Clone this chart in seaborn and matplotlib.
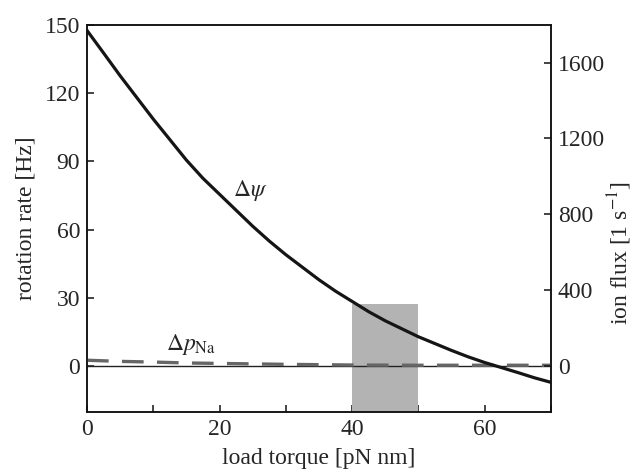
import matplotlib
matplotlib.use("Agg")
import matplotlib.pyplot as plt
import seaborn as sns
import pandas as pd

# values
torque = [0, 2.5, 5, 7.5, 10, 12.5, 15, 17.5, 20, 22.5, 25, 27.5, 30, 32.5, 35,
          37.5, 40, 42.5, 45, 47.5, 50, 52.5, 55, 57.5, 60, 62.5, 65, 67.5, 70]
rate_psi = [147.4, 137.5, 127.5, 118, 108.5, 99.5, 90.5, 82.5, 75.5, 68.5, 61.5,
            55, 49, 43.5, 38, 33, 28.5, 24, 20, 16.5, 13, 10, 7, 4.2, 1.7, -0.5,
            -2.7, -5, -7]
torque_na = [0, 5, 10, 15, 20, 25, 30, 35, 40, 50, 60, 70]
rate_na = [2.7, 2.2, 1.9, 1.5, 1.3, 1.1, 0.9, 0.75, 0.6, 0.5, 0.5, 0.5]
shade_x = [40, 50]
shade_top = 27.5

x_ticks = [0, 10, 20, 30, 40, 50, 60, 70]
x_labels = ['0', '', '20', '', '40', '', '60', '']
rate_ticks = [0, 30, 60, 90, 120, 150]
flux_ticks = [0, 400, 800, 1200, 1600]

sns.set_theme(style="ticks")
plt.rcParams['font.family'] = ['Liberation Serif', 'DejaVu Serif']
plt.rcParams['mathtext.fontset'] = 'stix'
plt.rcParams['xtick.direction'] = 'in'
plt.rcParams['ytick.direction'] = 'in'

fs = 17
fig = plt.figure(figsize=(6.35, 4.76), dpi=100)
ax = fig.add_axes([0.137, 0.1345, 0.7307, 0.814])

ylo, yhi = -20, 150
ax.fill_between(shade_x, ylo, shade_top, color='#b3b3b3', lw=0, zorder=1)
ax.axhline(0, color='#222222', lw=1.0, zorder=2)

df_psi = pd.DataFrame({'torque': torque, 'rate': rate_psi})
df_na = pd.DataFrame({'torque': torque_na, 'rate': rate_na})
sns.lineplot(data=df_psi, x='torque', y='rate', color='#151515', lw=2.3, ax=ax, zorder=4)
sns.lineplot(data=df_na, x='torque', y='rate', color='#666666', lw=2.4, ax=ax,
             zorder=3, linestyle=(0, (6.5, 4)))

ax.set_xlim(0, 70)
ax.set_ylim(ylo, yhi)
ax.set_xticks(x_ticks)
ax.set_xticklabels(x_labels)
ax.set_yticks(rate_ticks)
ax.tick_params(labelsize=fs, length=5, width=1.1, color='#111111', pad=5)
ax.set_xlabel('load torque [pN nm]', fontsize=fs, labelpad=6)
ax.set_ylabel('rotation rate [Hz]', fontsize=fs, labelpad=6)

ax.text(24.6, 77, r'$\Delta\psi$', fontsize=fs, ha='center', va='center')
ax.text(15.7, 9.5, r'$\Delta p_{\mathrm{Na}}$', fontsize=fs, ha='center', va='center')

# right axis: ion flux = 12 x rotation rate
ax2 = ax.twinx()
ax2.set_ylim(ylo * 12, yhi * 12)
ax2.set_yticks(flux_ticks)
ax2.tick_params(labelsize=fs, length=5, width=1.1, color='#111111', pad=5)
ax2.set_ylabel(r'ion flux [1 s$^{-1}$]', fontsize=fs)
ax2.yaxis.set_label_coords(1.118, 0.41)

for a in (ax, ax2):
    for s in a.spines.values():
        s.set_linewidth(1.1)
        s.set_color('#111111')

fig.savefig('out.png', dpi=100)
